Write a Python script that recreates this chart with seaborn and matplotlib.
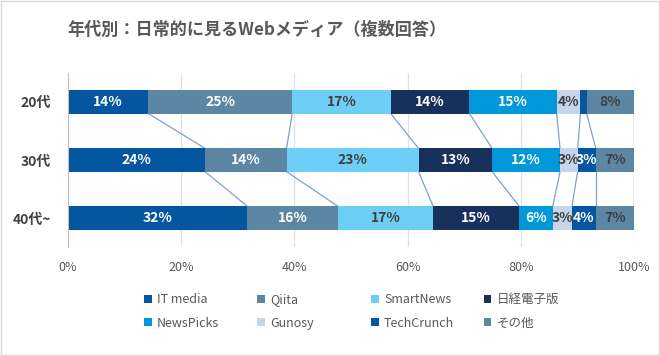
import pandas as pd
import seaborn as sns
import matplotlib.pyplot as plt
from matplotlib.patches import Patch, Rectangle

# Datos (% por grupo de edad)
edades = ['20代', '30代', '40代~']
medios = ['IT media', 'Qiita', 'SmartNews', '日経電子版',
          'NewsPicks', 'Gunosy', 'TechCrunch', 'その他']

it_media = [14.2, 24.2, 31.7]
qiita = [25.4, 14.4, 16.0]
smartnews = [17.4, 23.3, 16.8]
nikkei = [13.9, 13.0, 15.2]
newspicks = [15.4, 12.0, 5.9]
gunosy = [4.2, 3.1, 3.4]
techcrunch = [1.1, 3.2, 4.2]
otros = [8.4, 6.8, 6.8]

colores = ['#0556A0', '#5B87A5', '#6DCFF6', '#17305C',
           '#0098D8', '#C6D5EA', '#0556A0', '#5B87A5']
color_texto = ['white', 'white', '#404040', 'white',
               'white', '#404040', 'white', '#404040']

sns.set_style("white")
plt.rcParams['font.family'] = ['Noto Sans CJK JP', 'DejaVu Sans']

df = pd.DataFrame({'edad': edades})
for medio, valores in zip(medios, [it_media, qiita, smartnews, nikkei,
                                   newspicks, gunosy, techcrunch, otros]):
    df[medio] = valores

# Acumulados para apilar las barras
acum = df[medios].cumsum(axis=1)
acum['edad'] = df['edad']

fig = plt.figure(figsize=(6.6, 3.56), dpi=100)
ax = fig.add_axes([0.103, 0.306, 0.961 - 0.103, 0.795 - 0.306])

# Dibujar del total al primero para que se superpongan
for medio, color in reversed(list(zip(medios, colores))):
    sns.barplot(data=acum, x=medio, y='edad', orient='h', color=color,
                saturation=1, width=0.4, errorbar=None, linewidth=0, ax=ax)

# Etiquetas de cada segmento
for i in range(len(edades)):
    inicio = 0
    for k, medio in enumerate(medios):
        v = df[medio][i]
        if v >= 2:
            ax.text(inicio + v / 2, i, f"{v:.0f}%", ha='center', va='center',
                    fontsize=10, fontweight='bold', color=color_texto[k])
        inicio += v

# Líneas de serie entre barras
for k, medio in enumerate(medios):
    for i in range(len(edades) - 1):
        ax.plot([acum[medio][i], acum[medio][i + 1]], [i + 0.2, i + 0.8],
                color='#7F9FD8', lw=0.9, zorder=0.8)

ax.set_xlim(0, 100)
ax.set_ylim(2.5, -0.5)
ax.set_xticks(range(0, 101, 20))
ax.set_xticklabels([f"{t}%" for t in range(0, 101, 20)])
ax.set_xlabel('')
ax.set_ylabel('')
ax.grid(axis='x', color='#D9E1F2', lw=0.9)
ax.set_axisbelow(True)
for lado in ['top', 'right', 'bottom']:
    ax.spines[lado].set_visible(False)
ax.spines['left'].set_color('#BFBFBF')
ax.tick_params(axis='x', length=0, pad=10, labelsize=9, labelcolor='#595959')
ax.tick_params(axis='y', length=0, pad=12, labelsize=10, labelcolor='#404040')
for etiqueta in ax.get_yticklabels():
    etiqueta.set_fontweight('bold')

# Título
fig.text(0.39, 0.915, '年代別：日常的に見るWebメディア（複数回答）', ha='center',
         va='center', fontsize=12.3, fontweight='bold', color='#595959')

# Leyenda: cuatro columnas de igual ancho
xs = [144, 257, 371, 484]
for c in range(4):
    handles = [Patch(facecolor=colores[c + f * 4], edgecolor='none',
                     label=medios[c + f * 4]) for f in range(2)]
    fig.legend(handles=handles, loc='upper left',
               bbox_to_anchor=(xs[c] / 660, 1 - 293 / 356), frameon=False,
               fontsize=9, handlelength=0.6, handleheight=0.6,
               handletextpad=0.45, labelspacing=0.85, borderpad=0,
               borderaxespad=0, labelcolor='#595959')

fig.patches.append(Rectangle((0.001, 0.002), 0.997, 0.995, transform=fig.transFigure,
                             fill=False, edgecolor='#D9D9D9', lw=1))

fig.savefig('out.png', dpi=100)
